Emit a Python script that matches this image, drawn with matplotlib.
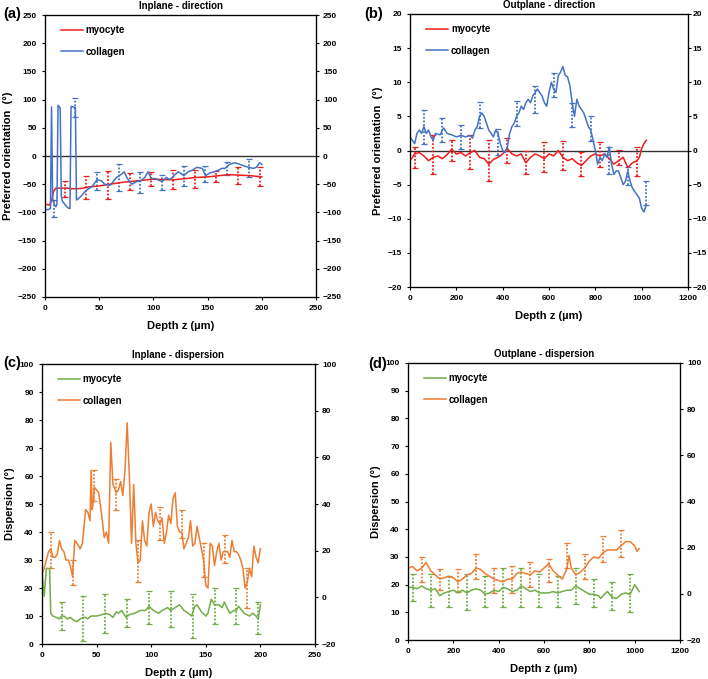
import numpy as np
import matplotlib.pyplot as plt

plt.rcParams['font.family'] = ['Liberation Sans', 'DejaVu Sans']
plt.rcParams['font.weight'] = 'bold'

RED = '#ee1c1c'
BLUE = '#4472c4'
GREEN = '#70ad47'
ORANGE = '#ed7d31'

# ---- (a) inplane direction ----
a_myo_x = [0, 2, 4, 6, 8, 10, 15, 20, 25, 30, 35, 40, 50, 60, 70, 80, 90, 100,
           110, 120, 130, 140, 150, 160, 170, 180, 190, 200]
a_myo_y = [-85, -86, -87, -80, -62, -57, -57, -57, -58, -58, -57, -55, -53, -50,
           -47, -45, -43, -41, -42, -42, -40, -38, -37, -35, -33, -34, -35, -37]
a_col_x = [0, 3, 5, 6, 7, 8, 9, 10, 11, 12, 14, 15, 16, 18, 20, 22, 23, 24, 26,
           28, 29, 33, 36, 40, 43, 45, 48, 52, 55, 60, 63, 66, 70, 73, 76, 80, 85,
           88, 92, 95, 98, 102, 105, 108, 112, 115, 120, 123, 126, 128, 132, 136,
           140, 145, 148, 152, 156, 160, 163, 166, 170, 175, 180, 184, 188, 192,
           195, 198, 200]
a_col_y = [-95, -95, -93, 87, -75, -82, -88, -90, -85, 90, 85, -70, -80, -85,
           -90, -93, -93, 88, 87, 86, -78, -72, -65, -58, -55, -50, -42, -44, -50,
           -52, -45, -38, -33, -28, -40, -50, -45, -45, -38, -28, -40, -40, -43,
           -45, -38, -42, -33, -28, -32, -35, -28, -25, -20, -22, -35, -30, -28,
           -25, -22, -22, -15, -12, -15, -18, -20, -22, -20, -12, -15]
a_myo_ex = [18, 38, 58, 78, 98, 118, 138, 158, 178, 198]
a_myo_ey = [-58, -56, -52, -45, -41, -42, -40, -36, -34, -37]
a_myo_ee = [14, 21, 25, 15, 13, 17, 16, 10, 15, 17]
a_col_ex = [8, 28, 48, 68, 88, 108, 128, 148, 168, 188]
a_col_ey = [-93, 86, -44, -38, -47, -47, -36, -32, -22, -21]
a_col_ee = [15, 17, 16, 24, 18, 13, 18, 14, 12, 16]

# ---- (b) outplane direction ----
b_myo_x = [0, 20, 40, 60, 80, 100, 120, 140, 160, 180, 200, 220, 240, 260, 280,
           300, 320, 340, 360, 380, 400, 420, 440, 460, 480, 500, 520, 540, 560,
           580, 600, 620, 640, 660, 680, 700, 720, 740, 760, 780, 800, 820, 840,
           860, 880, 900, 920, 940, 960, 980, 990, 1000, 1010, 1020]
b_myo_y = [-1.5, -0.5, -0.3, -0.8, -1.5, -1.0, -0.8, -1.2, -0.6, 0.2, -0.5,
           -0.3, -0.8, -0.3, 0.0, -1.0, -1.2, -2.0, -1.3, -1.0, -0.5, 0.3, -0.5,
           -0.8, -0.5, -1.8, -1.0, -0.5, -0.8, -1.2, -0.5, -0.8, 0.0, -1.0, -1.5,
           -1.2, -1.8, -2.2, -1.5, -0.8, -0.5, -0.8, -0.5, -1.2, -2.0, -1.5,
           -1.0, -2.5, -1.8, -1.5, -1.0, 0.3, 1.0, 1.5]
b_col_x = [0, 10, 20, 30, 40, 50, 60, 70, 80, 90, 100, 110, 130, 145, 160, 180,
           200, 220, 240, 260, 270, 280, 290, 300, 310, 320, 330, 340, 350, 360,
           370, 380, 390, 400, 410, 420, 430, 440, 450, 460, 470, 480, 490, 500,
           510, 520, 530, 540, 550, 560, 570, 580, 590, 600, 610, 620, 630, 640,
           650, 660, 670, 680, 690, 700, 710, 720, 730, 740, 750, 760, 770, 780,
           790, 800, 810, 820, 830, 840, 850, 860, 870, 880, 890, 900, 910, 920,
           930, 940, 950, 960, 970, 980, 990, 1000, 1010, 1020]
b_col_y = [2.0, 1.5, 1.0, 2.5, 3.0, 2.5, 3.5, 2.5, 3.0, 2.0, 1.5, 2.5, 2.3, 3.3,
           2.5, 2.3, 2.0, 2.2, 2.0, 2.2, 1.8, 3.0, 3.5, 5.0, 5.5, 5.0, 4.0, 3.0,
           2.5, 2.0, 3.0, 2.5, 1.0, 0.0, -0.3, 0.5, 2.5, 3.5, 4.0, 5.0, 5.5, 6.5,
           6.0, 7.0, 7.5, 7.0, 8.0, 8.5, 9.0, 8.5, 8.0, 7.0, 6.5, 8.5, 10.0, 9.0,
           8.5, 11.0, 11.5, 12.3, 11.0, 10.8, 9.5, 7.0, 5.0, 7.5, 6.5, 6.0, 5.5,
           4.5, 3.5, 3.0, 1.5, 0.0, -2.0, -1.0, -1.5, -0.5, -1.0, 0.5, -2.0, -3.5,
           -3.0, -3.0, -4.0, -5.0, -4.5, -3.0, -4.5, -5.5, -6.0, -6.5, -7.0, -8.5,
           -9.0, -8.0]
b_myo_ex = [20, 100, 180, 260, 340, 420, 500, 580, 660, 740, 820, 900, 980]
b_myo_ey = [-1.0, -0.6, 0.0, -0.2, -1.5, 0.0, -1.7, -1.0, -0.7, -2.0, -0.6, -1.0, -1.6]
b_myo_ee = [1.5, 2.9, 1.5, 2.5, 3.0, 1.8, 1.7, 2.2, 2.1, 1.8, 1.8, 1.1, 2.1]
b_col_ex = [60, 140, 220, 300, 380, 460, 540, 620, 700, 780, 860, 940, 1020]
b_col_ey = [3.5, 3.0, 2.0, 5.2, 1.3, 5.4, 7.5, 9.6, 5.2, 3.2, -1.5, -3.7, -6.2]
b_col_ee = [2.5, 1.8, 1.8, 1.9, 1.9, 1.8, 2.0, 1.7, 1.8, 1.8, 2.0, 1.3, 1.8]

# ---- (c) inplane dispersion ----
c_myo_x = [0, 2, 4, 7, 8, 10, 13, 16, 18, 20, 23, 26, 29, 32, 35, 38, 40, 42, 45,
           50, 55, 58, 62, 65, 68, 70, 73, 77, 80, 85, 90, 95, 98, 102, 107, 110,
           115, 118, 122, 126, 130, 134, 137, 140, 142, 146, 150, 152, 155, 158,
           162, 165, 167, 170, 172, 176, 178, 180, 185, 190, 193, 196, 198, 200]
c_myo_y = [26, 17, 27, 27, 11, 10, 9.5, 9, 10, 10, 9, 9.5, 8.5, 8, 9, 9.5, 9.5,
           9, 10, 10, 10.5, 11, 10.5, 9.5, 11.5, 11, 12, 9.5, 10.5, 11, 12, 12,
           13.5, 12, 11, 12, 13, 12, 13, 14, 12, 11, 10, 13.5, 14, 11.5, 10, 11,
           16, 14, 14, 13, 15, 12.5, 11, 12, 12, 13.5, 11, 10, 11, 10, 9, 14]
c_col_x = [0, 2, 4, 6, 8, 10, 12, 14, 16, 18, 20, 22, 24, 26, 28, 30, 32, 35, 37,
           40, 42, 44, 45, 46, 47, 48, 50, 52, 55, 57, 59, 61, 63, 65, 68, 70, 72,
           74, 76, 78, 80, 82, 84, 86, 88, 90, 92, 94, 96, 98, 100, 102, 104, 106,
           108, 110, 112, 114, 116, 118, 120, 122, 124, 126, 128, 130, 132, 134,
           136, 138, 140, 142, 144, 146, 148, 150, 152, 154, 156, 158, 160, 162,
           164, 166, 168, 170, 172, 174, 176, 178, 180, 182, 184, 186, 188, 190,
           192, 194, 196, 198, 200]
c_col_y = [25, 27, 30, 33, 34, 31, 31, 32, 37, 34, 33, 30, 30, 28, 24, 37, 36, 34,
           36, 48, 47, 44, 62, 48, 51, 56, 55, 54, 45, 38, 40, 36, 72, 57, 54, 55,
           58, 53, 62, 79, 60, 36, 57, 36, 29, 30, 44, 37, 35, 47, 50, 42, 47, 44,
           43, 45, 36, 40, 46, 43, 52, 54, 42, 40, 40, 34, 36, 38, 44, 35, 36, 42,
           38, 34, 30, 21, 20, 36, 35, 28, 33, 36, 30, 33, 33, 33, 31, 37, 33, 33,
           32, 30, 27, 20, 22, 27, 24, 35, 31, 29, 34]
c_myo_ex = [18, 38, 58, 78, 98, 118, 138, 158, 178, 198]
c_myo_ey = [10, 9, 11, 11, 13, 12.5, 10, 13.5, 13.5, 9.25]
c_myo_ee = [5, 8, 7, 5, 6, 6.5, 8, 6.5, 6.5, 5.75]
c_col_ex = [8, 28, 48, 68, 88, 108, 128, 148, 168, 188]
c_col_ey = [33.5, 25.5, 56.5, 53.5, 29.5, 43, 43, 30, 34, 20]
c_col_ee = [6.5, 4.5, 5.5, 5.5, 7.5, 6, 5, 6, 5, 7]

# ---- (d) outplane dispersion ----
d_myo_x = [0, 20, 40, 60, 80, 100, 120, 140, 160, 180, 200, 220, 240, 260, 280,
           300, 320, 340, 360, 380, 400, 420, 440, 460, 480, 500, 520, 540, 560,
           580, 600, 620, 640, 660, 680, 700, 720, 740, 760, 780, 800, 820, 840,
           850, 860, 880, 900, 920, 940, 960, 980, 1000, 1020]
d_myo_y = [19, 19, 18.5, 19.5, 18.5, 18, 18.5, 16, 17, 17.5, 18, 17, 18, 17, 18,
           18.5, 18, 16.5, 17, 18, 17.5, 19, 18.5, 17.5, 18, 19.5, 18.5, 17.5, 18,
           17, 17, 17, 17.5, 17, 17.5, 18, 18, 19.5, 18.5, 17.5, 16.5, 16.5, 16,
           15, 16, 17.5, 15.5, 15, 16.5, 17, 16.5, 20, 17.5]
d_col_x = [0, 20, 40, 60, 80, 100, 120, 140, 160, 180, 200, 220, 240, 260, 280,
           300, 320, 340, 360, 380, 400, 420, 440, 460, 480, 500, 520, 540, 560,
           580, 600, 620, 640, 660, 680, 700, 710, 720, 740, 760, 780, 800, 820,
           840, 860, 880, 900, 920, 940, 960, 980, 1000, 1010, 1020]
d_col_y = [26, 26.5, 25, 26, 28, 25, 23.5, 22, 22.5, 23, 22.5, 21, 22, 23.5, 24,
           26, 25.5, 24, 23, 22, 21.5, 21, 22, 22, 24, 24.5, 24, 23.5, 25, 24.5,
           26, 27.5, 25, 23.5, 22, 25.5, 30.5, 26, 23.5, 24.5, 26, 28.5, 30, 29.5,
           31.5, 32.5, 32.5, 32.5, 34, 35.5, 35.5, 34, 32, 33]
d_myo_ex = [20, 100, 180, 260, 340, 420, 500, 580, 660, 740, 820, 900, 980]
d_myo_ey = [19, 18, 17.5, 17.5, 17.5, 19, 19, 18, 17.5, 19.5, 17, 16, 17]
d_myo_ee = [5, 6, 5.5, 6.5, 5.5, 7, 7, 6, 5.5, 6.5, 5, 5, 7]
d_col_ex = [60, 140, 220, 300, 380, 460, 540, 620, 700, 780, 860, 940]
d_col_ey = [25.5, 21.8, 21.5, 26.5, 21.5, 21.8, 23.5, 25.2, 30.5, 26.5, 32.8, 34.8]
d_col_ee = [4.5, 3.8, 4, 4.5, 4.5, 4.8, 4.5, 4.2, 4.5, 4.5, 4.8, 4.8]

fig = plt.figure(figsize=(7.08, 6.79), dpi=100)

TICK = 6
LAB = 8


def errbars(ax, x, y, e, color):
    _, caps, bars = ax.errorbar(x, y, yerr=e, fmt='none', ecolor=color,
                                elinewidth=1.3, capsize=2, capthick=0.9, zorder=3)
    for b in bars:
        b.set_linestyle((0, (1, 1)))


def panel(rect, title, letter, letter_xy, ylab, xlim, xstep, ylim, ystep,
          ylim2, ystep2, series, zero=False, rpad=2.5):
    ax = fig.add_axes(rect)
    for x, y, ex, ey, ee, color, name in series:
        ax.plot(x, y, color=color, lw=1.1, label=name, zorder=4)
        errbars(ax, ex, ey, ee, color)
    if zero:
        ax.axhline(0, color='#333333', lw=1.0, zorder=2)
    ax.set_xlim(*xlim)
    ax.set_ylim(*ylim)
    ax.set_xticks(np.arange(xlim[0], xlim[1] + 1, xstep))
    ax.set_yticks(np.arange(ylim[0], ylim[1] + 0.001, ystep))
    ax.tick_params(labelsize=TICK, length=2.5, width=0.8)
    for lb in ax.get_xticklabels() + ax.get_yticklabels():
        lb.set_fontweight('bold')
    ax.set_xlabel('Depth z (µm)', fontsize=LAB, fontweight='bold', labelpad=6)
    ax.set_ylabel(ylab, fontsize=LAB, fontweight='bold', labelpad=3)
    ax.set_title(title, fontsize=7, fontweight='bold', pad=4)
    for s in ax.spines.values():
        s.set_linewidth(0.9)
    ax.legend(loc='upper left', bbox_to_anchor=(0.025, 0.995), frameon=False,
              handlelength=2.3, handletextpad=0.3, labelspacing=1.2,
              prop={'size': 7, 'weight': 'bold'})
    ax2 = ax.twinx()
    ax2.set_ylim(*ylim2)
    ax2.set_yticks(np.arange(ylim2[0], ylim2[1] + 0.001, ystep2))
    ax2.tick_params(labelsize=TICK, length=2.5, width=0.8, pad=rpad)
    for lb in ax2.get_yticklabels():
        lb.set_fontweight('bold')
    fig.text(letter_xy[0], letter_xy[1], letter, fontsize=10.5,
             fontweight='bold', va='top')
    return ax


panel([0.0636, 0.5626, 0.3828, 0.4153], 'Inplane - direction', '(a)', (0.004, 0.99),
      'Preferred orientation  (°)', (0, 250), 50, (-250, 250), 50, (-250, 250), 50,
      [(a_myo_x, a_myo_y, a_myo_ex, a_myo_ey, a_myo_ee, RED, 'myocyte'),
       (a_col_x, a_col_y, a_col_ex, a_col_ey, a_col_ee, BLUE, 'collagen')],
      zero=True)
panel([0.5791, 0.5773, 0.3927, 0.4021], 'Outplane - direction', '(b)', (0.515, 0.99),
      'Preferred orientation  (°)', (0, 1200), 200, (-20, 20), 5, (-20, 20), 5,
      [(b_myo_x, b_myo_y, b_myo_ex, b_myo_ey, b_myo_ee, RED, 'myocyte'),
       (b_col_x, b_col_y, b_col_ex, b_col_ey, b_col_ee, BLUE, 'collagen')],
      zero=True, rpad=1.0)
panel([0.0593, 0.0515, 0.3856, 0.4124], 'Inplane - dispersion', '(c)', (0.004, 0.476),
      'Dispersion (°)', (0, 250), 50, (0, 100), 10, (-20, 100), 20,
      [(c_myo_x, c_myo_y, c_myo_ex, c_myo_ey, c_myo_ee, GREEN, 'myocyte'),
       (c_col_x, c_col_y, c_col_ex, c_col_ey, c_col_ee, ORANGE, 'collagen')])
panel([0.5763, 0.0574, 0.3842, 0.4080], 'Outplane - dispersion', '(d)', (0.52, 0.474),
      'Dispersion (°)', (0, 1200), 200, (0, 100), 10, (-20, 100), 20,
      [(d_myo_x, d_myo_y, d_myo_ex, d_myo_ey, d_myo_ee, GREEN, 'myocyte'),
       (d_col_x, d_col_y, d_col_ex, d_col_ey, d_col_ee, ORANGE, 'collagen')])

fig.savefig('out.png', dpi=100)
